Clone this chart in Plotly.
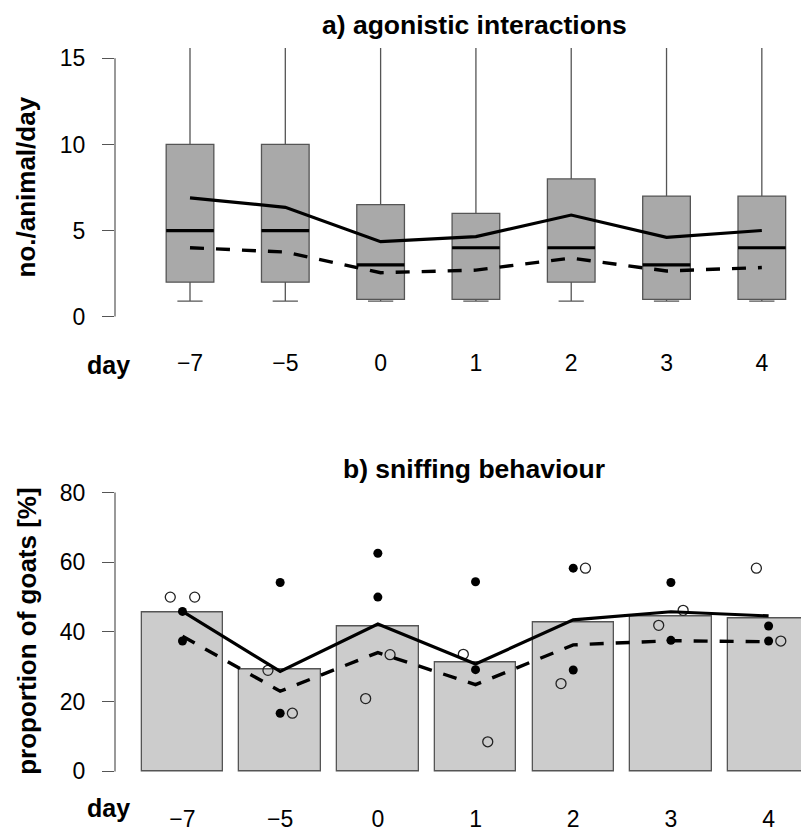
import plotly.graph_objects as go

# ---------------- data ----------------
days = ["−7", "−5", "0", "1", "2", "3", "4"]

# a) agonistic interactions (box plots)
box_q1 = [2, 2, 1, 1, 2, 1, 1]
box_median = [5, 5, 3, 4, 4, 3, 4]
box_q3 = [10, 10, 6.5, 6, 8, 7, 7]
box_lower = [0.9, 0.9, 0.9, 0.9, 0.9, 0.9, 0.9]
box_upper = [25, 25, 25, 25, 25, 25, 25]
agon_solid = [6.9, 6.35, 4.35, 4.65, 5.9, 4.6, 5.0]
agon_dashed = [4.0, 3.75, 2.55, 2.7, 3.4, 2.65, 2.85]

# b) sniffing behaviour
sniff_bar = [45.7, 29.2, 41.7, 31.4, 42.8, 44.6, 43.8]
sniff_solid = [45.9, 28.7, 42.3, 30.8, 43.5, 45.8, 44.6]
sniff_dashed = [38.8, 23.0, 34.1, 24.9, 36.3, 37.5, 37.2]
filled_a = [45.9, 54.2, 62.6, 54.4, 58.3, 54.2, 41.7]
filled_b = [37.4, 16.7, 50.0, 29.2, 29.1, 37.6, 37.4]
open_left = [50.0, 29.0, 20.9, 33.6, 25.2, 41.9, 58.3]
open_right = [50.0, 16.7, 33.5, 8.5, 58.3, 46.2, 37.4]

# ---------------- geometry helpers ----------------
W, H = 801, 832
FONT = "Liberation Sans, Arial, Helvetica, sans-serif"
pos_a = [i + 1 for i in range(len(days))]
pos_b = [0.7 + 1.2 * i for i in range(len(days))]
BOXW = 0.5
OFF = 0.15


def py(px):
    return 1 - px / H


fig = go.Figure()

# ---- panel a: boxes ----
fig.add_trace(go.Box(
    x=pos_a, q1=box_q1, median=box_median, q3=box_q3,
    lowerfence=box_lower, upperfence=box_upper,
    width=BOXW, whiskerwidth=0.53,
    fillcolor="#a9a9a9", line=dict(color="#555555", width=1.3),
    boxpoints=False, showlegend=False, hoverinfo="skip",
    xaxis="x", yaxis="y",
))
# thick medians
mx, my = [], []
for p, m in zip(pos_a, box_median):
    mx += [p - BOXW / 2, p + BOXW / 2, None]
    my += [m, m, None]
fig.add_trace(go.Scatter(x=mx, y=my, mode="lines",
                         line=dict(color="black", width=3.2),
                         showlegend=False, xaxis="x", yaxis="y"))
fig.add_trace(go.Scatter(x=pos_a, y=agon_solid, mode="lines",
                         line=dict(color="black", width=3.2),
                         showlegend=False, xaxis="x", yaxis="y"))
fig.add_trace(go.Scatter(x=pos_a, y=agon_dashed, mode="lines",
                         line=dict(color="black", width=3.4, dash="14px,12px"),
                         showlegend=False, xaxis="x", yaxis="y"))

# ---- panel b: bars ----
fig.add_trace(go.Bar(
    x=pos_b, y=sniff_bar, width=1.0,
    marker=dict(color="#cccccc", line=dict(color="#555555", width=1.3)),
    showlegend=False, xaxis="x2", yaxis="y2",
))
fx, fy = [], []
for p, a, b in zip(pos_b, filled_a, filled_b):
    fx += [p, p]
    fy += [a, b]
fig.add_trace(go.Scatter(x=fx, y=fy, mode="markers",
                         marker=dict(color="black", size=9),
                         showlegend=False, xaxis="x2", yaxis="y2"))
ox, oy = [], []
for p, l, r in zip(pos_b, open_left, open_right):
    ox += [p - OFF, p + OFF]
    oy += [l, r]
fig.add_trace(go.Scatter(x=ox, y=oy, mode="markers",
                         marker=dict(color="rgba(0,0,0,0)", size=10,
                                     line=dict(color="#222222", width=1.3)),
                         showlegend=False, xaxis="x2", yaxis="y2"))
fig.add_trace(go.Scatter(x=pos_b, y=sniff_solid, mode="lines",
                         line=dict(color="black", width=3.2),
                         showlegend=False, xaxis="x2", yaxis="y2"))
fig.add_trace(go.Scatter(x=pos_b, y=sniff_dashed, mode="lines",
                         line=dict(color="black", width=3.4, dash="14px,12px"),
                         showlegend=False, xaxis="x2", yaxis="y2"))

# ---------------- axes ----------------
xdom = [115 / W, 1]
tickfont = dict(family=FONT, size=23, color="black")
common_x = dict(domain=xdom, showgrid=False, zeroline=False, showline=False,
                ticks="", tickfont=tickfont, ticklabelstandoff=20)
common_y = dict(showgrid=False, zeroline=False, showline=False,
                ticks="outside", ticklen=12, tickwidth=1.2, tickcolor="#555555",
                tickfont=tickfont, ticklabelstandoff=12)

fig.update_layout(
    width=W, height=H,
    margin=dict(l=0, r=0, t=0, b=0),
    paper_bgcolor="white", plot_bgcolor="white",
    font=dict(family=FONT, color="black"),
    xaxis=dict(**common_x, range=[0.213, 7.411], tickvals=pos_a, ticktext=days, anchor="y"),
    yaxis=dict(**common_y, domain=[py(329.7), py(46.7)], range=[-0.6, 15.6],
               tickvals=[0, 5, 10, 15], anchor="x"),
    xaxis2=dict(**common_x, range=[-0.129, 8.298], tickvals=pos_b, ticktext=days, anchor="y2"),
    yaxis2=dict(**common_y, domain=[py(792), py(486.4)], range=[-3.2, 83.2],
                tickvals=[0, 20, 40, 60, 80], anchor="x2"),
    bargap=0,
)

# y axis lines spanning only the tick range
fig.add_shape(type="line", xref="x domain", yref="y", x0=0, x1=0, y0=0, y1=15,
              line=dict(color="#555555", width=1.2))
fig.add_shape(type="line", xref="x2 domain", yref="y2", x0=0, x1=0, y0=0, y1=80,
              line=dict(color="#555555", width=1.2))


def bold(size):
    return dict(family=FONT, size=size, color="black")


ann = [
    dict(text="<b>a) agonistic interactions</b>", x=474 / W, y=py(23), font=bold(26.5)),
    dict(text="<b>b) sniffing behaviour</b>", x=474 / W, y=py(474), font=bold(26.5)),
    dict(text="<b>day</b>", x=108 / W, y=py(368), font=bold(25)),
    dict(text="<b>day</b>", x=108 / W, y=py(818), font=bold(25)),
    dict(text="<b>no./animal/day</b>", x=26 / W, y=py(188.2), textangle=-90, font=bold(26)),
    dict(text="<b>proportion of goats [%]</b>", x=27 / W, y=py(639), textangle=-90, font=bold(26)),
]
for a in ann:
    fig.add_annotation(xref="paper", yref="paper", showarrow=False,
                       xanchor="center", yanchor="middle", **a)

fig.write_html("out.html")
